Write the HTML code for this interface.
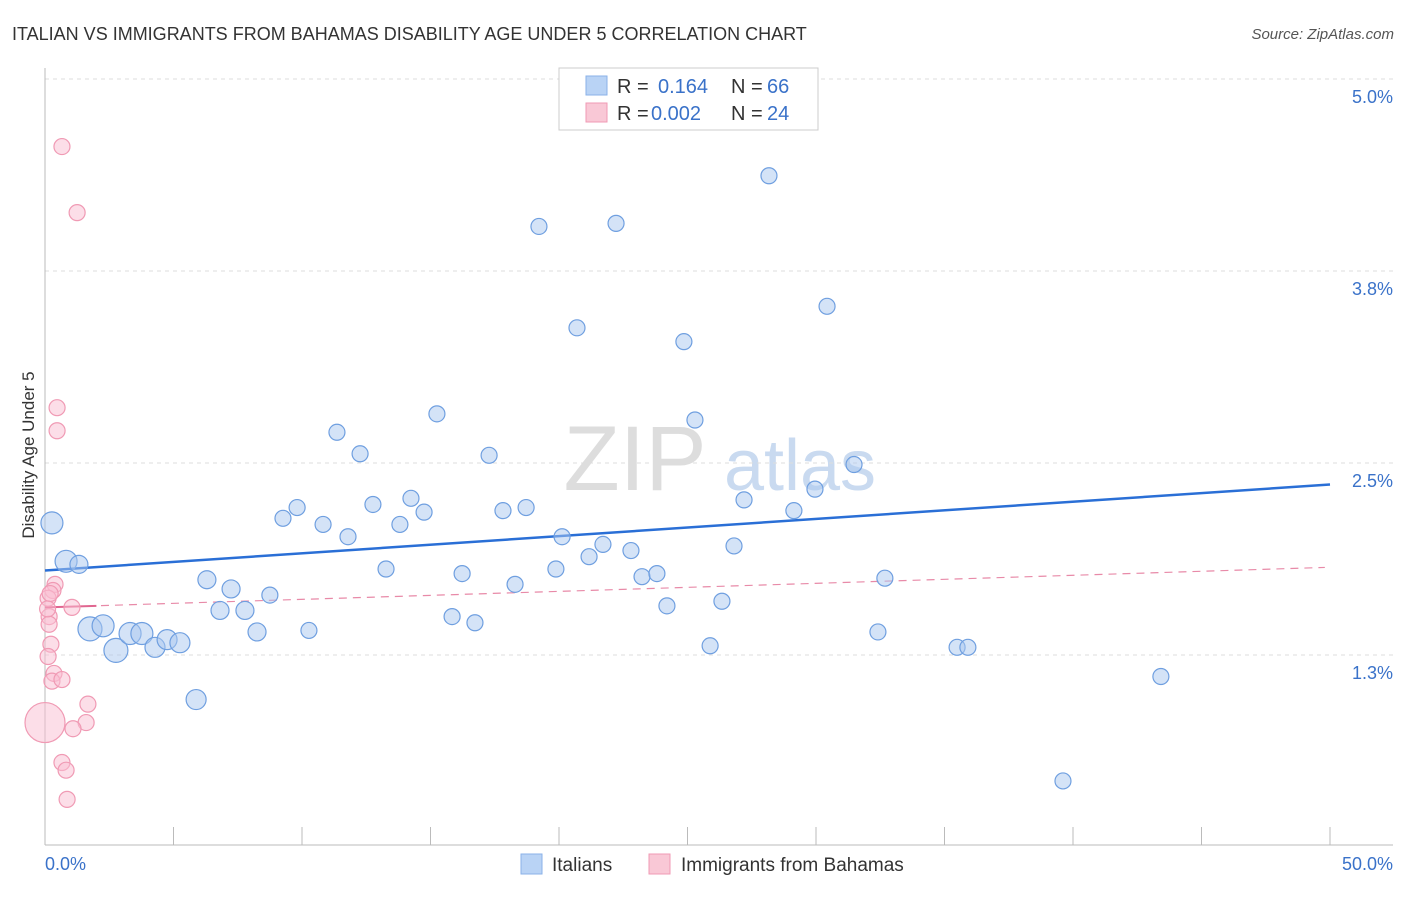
<!DOCTYPE html>
<html><head><meta charset="utf-8"><style>
body{margin:0;background:#fff;font-family:"Liberation Sans",sans-serif;}
svg text{font-family:"Liberation Sans",sans-serif;}
</style></head><body>
<svg id="chart" width="1406" height="892" xmlns="http://www.w3.org/2000/svg">
<text x="12" y="40" font-size="18" fill="#333">ITALIAN VS IMMIGRANTS FROM BAHAMAS DISABILITY AGE UNDER 5 CORRELATION CHART</text>
<text x="1394" y="39" font-size="15" fill="#555" text-anchor="end" font-style="italic">Source: ZipAtlas.com</text>
<text transform="translate(34,455) rotate(-90)" font-size="17" fill="#333" text-anchor="middle">Disability Age Under 5</text>
<g><text x="635" y="490" font-size="92" fill="#ddd" font-family="Liberation Serif" text-anchor="middle">ZIP</text><text x="800" y="490" font-size="72" fill="#c9daf0" text-anchor="middle">atlas</text></g>
<g id="grid"></g><g id="axes"></g><g id="trends"></g><g id="points"></g>
<g>
<rect x="559" y="68" width="259" height="62" fill="#fff" stroke="#ccc"/>
<rect x="586" y="76" width="21" height="19" fill="#b9d3f5" stroke="#8ab2e8"/>
<text x="617" y="93" font-size="20" fill="#333">R = </text><text x="658" y="93" font-size="20" fill="#3a72c9">0.164</text>
<text x="731" y="93" font-size="20" fill="#333">N = </text><text x="767" y="93" font-size="20" fill="#3a72c9">66</text>
<rect x="586" y="103" width="21" height="19" fill="#f9c8d6" stroke="#f09ab4"/>
<text x="617" y="120" font-size="20" fill="#333">R = </text><text x="651" y="120" font-size="20" fill="#3a72c9">0.002</text>
<text x="731" y="120" font-size="20" fill="#333">N = </text><text x="767" y="120" font-size="20" fill="#3a72c9">24</text>
</g>
<g>
<rect x="521" y="854" width="21" height="20" fill="#b9d3f5" stroke="#8ab2e8"/>
<text x="552" y="871" font-size="19" fill="#333">Italians</text>
<rect x="649" y="854" width="21" height="20" fill="#f9c8d6" stroke="#f09ab4"/>
<text x="681" y="871" font-size="19" fill="#333">Immigrants from Bahamas</text>
</g>
</svg>
<script>
const yTicks=[5.0,3.75,2.5,1.25];
const yTickLabels=["5.0%","3.8%","2.5%","1.3%"];
const xTickLabels=["0.0%","50.0%"];
const blueX=[0.27,0.82,1.32,1.75,2.26,2.76,3.31,3.77,4.28,4.75,5.25,5.88,6.30,6.81,7.24,7.78,8.25,8.75,9.26,9.81,10.27,10.82,11.36,11.79,12.26,12.76,13.27,13.81,14.24,14.75,15.25,15.84,16.23,16.73,17.28,17.82,18.29,18.72,19.22,19.88,20.12,20.70,21.17,21.71,22.22,22.80,23.23,23.81,24.20,24.86,25.29,25.88,26.34,26.81,27.20,28.17,29.14,29.96,30.43,31.48,32.41,32.68,35.49,35.91,39.61,43.42];
const blueY=[2.11,1.86,1.84,1.42,1.44,1.28,1.39,1.39,1.30,1.35,1.33,0.96,1.74,1.54,1.68,1.54,1.40,1.64,2.14,2.21,1.41,2.10,2.70,2.02,2.56,2.23,1.81,2.10,2.27,2.18,2.82,1.50,1.78,1.46,2.55,2.19,1.71,2.21,4.04,1.81,2.02,3.38,1.89,1.97,4.06,1.93,1.76,1.78,1.57,3.29,2.78,1.31,1.60,1.96,2.26,4.37,2.19,2.33,3.52,2.49,1.40,1.75,1.30,1.30,0.43,1.11];
const blueSize=[11,11,9,12,11,12,11,11,10,10,10,10,9,9,9,9,9,8,8,8,8,8,8,8,8,8,8,8,8,8,8,8,8,8,8,8,8,8,8,8,8,8,8,8,8,8,8,8,8,8,8,8,8,8,8,8,8,8,8,8,8,8,8,8,8,8];
const pinkX=[0.66,1.25,0.47,0.47,0.39,0.31,0.12,1.05,0.16,0.16,0.23,0.12,0.35,0.27,0.66,1.67,1.60,1.09,0,0.66,0.82,0.86,0.2,0.1];
const pinkY=[4.56,4.13,2.86,2.71,1.71,1.67,1.62,1.56,1.50,1.45,1.32,1.24,1.13,1.08,1.09,0.93,0.81,0.77,0.81,0.55,0.50,0.31,1.65,1.55];
const pinkSize=[8,8,8,8,8,8,8,8,8,8,8,8,8,8,8,8,8,8,20,8,8,8,8,8];
const blueTrend=[1.80,2.36];
const pinkTrend=[1.56,1.82];
const X=v=>45+v*25.7, Y=v=>79+(5-v)*153.6;
const NS="http://www.w3.org/2000/svg";
function mk(g,tag,at){const e=document.createElementNS(NS,tag);for(const k in at)e.setAttribute(k,at[k]);document.getElementById(g).appendChild(e);return e;}
yTicks.forEach((t,i)=>{
 let l=mk('grid','line',{x1:45,x2:1393,y1:Y(t),y2:Y(t),stroke:'#ddd','stroke-dasharray':'4,4'});
 
 
 let tx=mk('grid','text',{x:1393,y:Y(t)+24,'font-size':18,fill:'#3a72c9','text-anchor':'end'});
 tx.textContent=yTickLabels[i];
 
 
});
let ax=mk('axes','line',{x1:45,x2:45,y1:68,y2:845,stroke:'#bbb'});


let bx=mk('axes','line',{x1:45,x2:1393,y1:845,y2:845,stroke:'#bbb'});


for(let i=0;i<=10;i++){let t=mk('axes','line',{x1:X(i*5),x2:X(i*5),y1:827,y2:845,stroke:'#bbb'});
 
 }
[[0,'start'],[50,'end']].forEach((d,i)=>{let t=mk('axes','text',{x:i?1393:45,y:870,'font-size':18,fill:'#3a72c9','text-anchor':d[1]});
 t.textContent=xTickLabels[i];
 
 });
function draw(xs,ys,ss,fill,stroke,name){xs.forEach((x,i)=>{let c=mk('points','circle',{cx:X(x),cy:Y(ys[i]),r:ss[i],fill:fill,stroke:stroke,'stroke-width':1.2});
 
 });}
draw(pinkX,pinkY,pinkSize,'rgba(249,190,210,0.5)','#f09ab4','bahamas-point');
draw(blueX,blueY,blueSize,'rgba(170,200,240,0.5)','#6f9fe0','italian-point');
let bt=mk('trends','line',{x1:X(0),x2:X(50),y1:Y(blueTrend[0]),y2:Y(blueTrend[1]),stroke:'#2a6fd6','stroke-width':2.5});


let pt=mk('trends','line',{x1:X(0),x2:X(49.8),y1:Y(pinkTrend[0]),y2:Y(pinkTrend[1]),stroke:'#e88aa8','stroke-width':1.2,'stroke-dasharray':'8,6'});


let ps=mk('trends','line',{x1:X(0),x2:X(2),y1:Y(pinkTrend[0]),y2:Y(pinkTrend[0]+0.01),stroke:'#e06690','stroke-width':2});


</script>
</body></html>
